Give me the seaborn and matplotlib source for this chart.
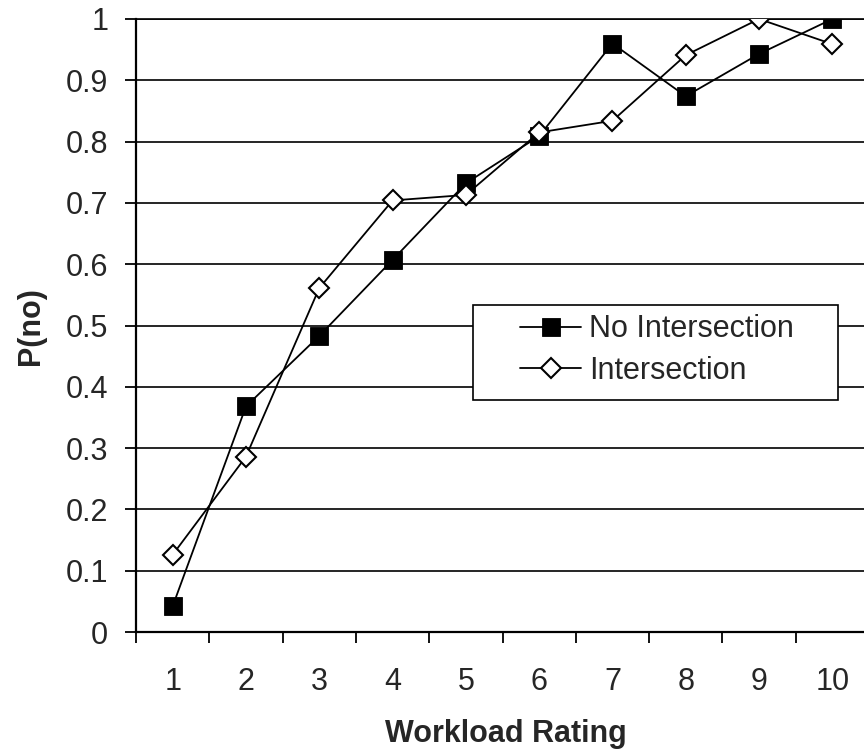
import matplotlib
matplotlib.use("Agg")
import matplotlib.pyplot as plt
from matplotlib.patches import Rectangle
from matplotlib.ticker import FixedLocator, NullFormatter
import seaborn as sns
import pandas as pd

# Workload ratings and the share of "no" responses per condition
ratings = [1, 2, 3, 4, 5, 6, 7, 8, 9, 10]
no_intersection = [0.042, 0.368, 0.483, 0.607, 0.732, 0.809, 0.960, 0.874, 0.943, 1.0]
intersection = [0.126, 0.286, 0.561, 0.704, 0.713, 0.815, 0.834, 0.941, 1.0, 0.959]
y_ticks = [0, 0.1, 0.2, 0.3, 0.4, 0.5, 0.6, 0.7, 0.8, 0.9, 1.0]
y_tick_labels = ["0", "0.1", "0.2", "0.3", "0.4", "0.5", "0.6", "0.7", "0.8", "0.9", "1"]

sns.set_theme(style="white")
plt.rcParams["font.family"] = ["Liberation Sans", "DejaVu Sans"]

W, H = 864, 753
fig = plt.figure(figsize=(W / 100, H / 100), dpi=100)
ax = fig.add_axes([136 / W, (H - 632) / H, 733 / W, 613 / H])

df_no = pd.DataFrame({"rating": ratings, "p": no_intersection})
df_in = pd.DataFrame({"rating": ratings, "p": intersection})

sns.lineplot(data=df_no, x="rating", y="p", ax=ax, color="black", linewidth=1.3,
             marker="s", markersize=12.5, markerfacecolor="black",
             markeredgecolor="black", markeredgewidth=0.6,
             label="No Intersection", zorder=4)
sns.lineplot(data=df_in, x="rating", y="p", ax=ax, color="black", linewidth=1.3,
             marker="D", markersize=10, markerfacecolor="white",
             markeredgecolor="black", markeredgewidth=1.5,
             label="Intersection", zorder=4)

ax.set_xlim(0.5, 10.5)
ax.set_ylim(0, 1)

# y axis: outward ticks with labels at every 0.1
ax.set_yticks(y_ticks)
ax.set_yticklabels(y_tick_labels)
ax.tick_params(axis="y", which="major", direction="out", length=8, width=1.3,
               color="black", labelsize=22, pad=12, left=True)

# x axis: ticks at category boundaries, labels at category centres
ax.xaxis.set_major_locator(FixedLocator([r - 0.5 for r in ratings] + [ratings[-1] + 0.5]))
ax.xaxis.set_major_formatter(NullFormatter())
ax.xaxis.set_minor_locator(FixedLocator(ratings))
ax.set_xticklabels([str(r) for r in ratings], minor=True)
ax.tick_params(axis="x", which="major", direction="out", length=8, width=1.3,
               color="black", bottom=True)
ax.tick_params(axis="x", which="minor", length=0, labelsize=22, pad=25, bottom=True)

ax.grid(axis="y", color="black", linewidth=1.2)
ax.grid(axis="x", visible=False)
ax.set_axisbelow(True)

for side in ["left", "bottom", "top"]:
    ax.spines[side].set_color("black")
    ax.spines[side].set_linewidth(1.6)
ax.spines["top"].set_linewidth(1.2)
ax.spines["right"].set_visible(False)

ax.set_xlabel("Workload Rating", fontsize=22, fontweight="bold", va="top")
ax.set_ylabel("P(no)", fontsize=22, fontweight="bold")
ax.xaxis.set_label_coords(506 / W, 1 - 719 / H, transform=fig.transFigure)
ax.yaxis.set_label_coords(46 / W, 1 - 326 / H, transform=fig.transFigure)

# Legend with a white box drawn over the grid
ax.add_patch(Rectangle((473 / W, 1 - 400 / H), (838 - 473) / W, 95 / H,
                       transform=fig.transFigure, facecolor="white",
                       edgecolor="black", linewidth=1.2, zorder=5))
leg = ax.legend(loc="center left", bbox_to_anchor=(520 / W, 1 - 350 / H),
                bbox_transform=fig.transFigure, frameon=False, fontsize=22,
                handlelength=2.0, handletextpad=0.26, labelspacing=0.38,
                borderpad=0, borderaxespad=0)
leg.set_zorder(6)

fig.savefig("out.png", dpi=100)
